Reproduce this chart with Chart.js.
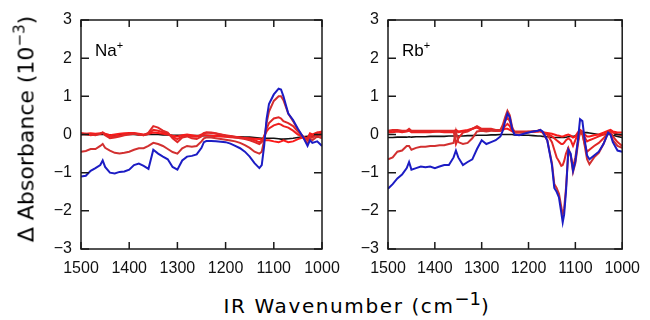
<!DOCTYPE html>
<html>
<head>
<meta charset="utf-8">
<script src="https://cdn.jsdelivr.net/npm/chart.js@4.4.0/dist/chart.umd.min.js"></script>
<style>
  body { margin: 0; background: #fff; }
  #fig { position: relative; width: 650px; height: 320px; overflow: hidden; font-family: "Liberation Sans", Arial, sans-serif; }
  .pane { position: absolute; top: 0; height: 285px; }
  .tag { position: absolute; font-size: 17px; color: #000; line-height: 1; }
  .tag sup { font-size: 11px; vertical-align: 7px; }
  #ytitle { position: absolute; left: 25px; top: 129px; transform: translate(-50%, -50%) rotate(-90deg);
            white-space: nowrap; font-family: "DejaVu Sans", sans-serif; font-size: 22px; line-height: 1; }
  #ytitle sup { font-size: 15px; vertical-align: 9px; }
  #xtitle { position: absolute; left: 357px; top: 303px; transform: translate(-50%, -50%);
            white-space: nowrap; font-family: "DejaVu Sans", sans-serif; font-size: 20px; letter-spacing: 1.6px; line-height: 1; }
  #xtitle sup { font-size: 18px; vertical-align: 8px; letter-spacing: 0; }
</style>
</head>
<body>
<div id="fig">
  <div class="pane" style="left:0;width:350px"><canvas id="na"></canvas></div>
  <div class="pane" style="left:330px;width:320px"><canvas id="rb"></canvas></div>
  <div class="tag" style="left:95px;top:40px">Na<sup>+</sup></div>
  <div class="tag" style="left:402px;top:40px">Rb<sup>+</sup></div>
  <div id="ytitle">Δ Absorbance (10<sup>−3</sup>)</div>
  <div id="xtitle">IR Wavenumber (cm<sup>−1</sup>)</div>
</div>
<script>
// tick values
const xTicks = [1500, 1400, 1300, 1200, 1100, 1000];
const yTicks = [-3, -2, -1, 0, 1, 2, 3];

// Na+ panel
const naWn = [
  1500, 1490, 1480, 1470, 1460, 1455, 1450, 1440, 1430, 1420,
  1410, 1400, 1390, 1380, 1370, 1360, 1350, 1340, 1330, 1320,
  1310, 1300, 1290, 1280, 1270, 1260, 1250, 1245, 1240, 1230,
  1220, 1210, 1200, 1190, 1180, 1170, 1160, 1150, 1140, 1130,
  1125, 1120, 1115, 1110, 1100, 1090, 1085, 1080, 1070, 1060,
  1050, 1040, 1030, 1025, 1020, 1010, 1000];
const naBlue = [
  -1.10, -1.08, -0.95, -0.88, -0.80, -0.68, -0.85, -1.00, -1.02, -0.98,
  -0.97, -0.92, -0.80, -0.76, -0.82, -0.90, -0.40, -0.50, -0.58, -0.65,
  -0.85, -0.92, -0.68, -0.58, -0.56, -0.52, -0.35, -0.20, -0.17, -0.17,
  -0.18, -0.19, -0.20, -0.24, -0.30, -0.36, -0.45, -0.58, -0.75, -0.88,
  -0.80, -0.30, 0.40, 0.80, 1.05, 1.20, 1.18, 1.00, 0.55, 0.38,
  0.15, -0.05, -0.30, -0.15, -0.22, -0.18, -0.30];
const naRed1 = [
  -0.45, -0.43, -0.38, -0.38, -0.30, -0.25, -0.35, -0.42, -0.48, -0.50,
  -0.48, -0.45, -0.40, -0.36, -0.36, -0.30, -0.22, -0.25, -0.30, -0.38,
  -0.46, -0.50, -0.36, -0.30, -0.32, -0.30, -0.18, -0.10, -0.08, -0.08,
  -0.10, -0.12, -0.14, -0.16, -0.18, -0.22, -0.28, -0.35, -0.45, -0.50,
  -0.45, -0.15, 0.30, 0.60, 0.88, 1.00, 1.00, 0.90, 0.55, 0.35,
  0.12, -0.05, -0.25, -0.10, -0.15, -0.05, -0.10];
const naRed2 = [
  0.02, 0.00, 0.00, -0.02, 0.02, 0.05, -0.02, -0.10, -0.08, -0.05,
  -0.02, 0.00, 0.02, 0.00, -0.02, 0.05, 0.22, 0.18, 0.10, 0.05,
  -0.10, -0.20, -0.08, -0.05, -0.10, -0.12, -0.05, 0.02, 0.05, 0.05,
  0.03, 0.00, -0.03, -0.05, -0.08, -0.10, -0.12, -0.15, -0.20, -0.25,
  -0.20, -0.05, 0.15, 0.30, 0.42, 0.45, 0.42, 0.35, 0.30, 0.22,
  0.08, -0.05, -0.15, -0.05, -0.08, 0.00, -0.05];
const naRed3 = [
  0.00, 0.02, -0.02, 0.00, 0.02, 0.04, 0.00, -0.06, -0.05, -0.03,
  0.00, 0.02, 0.03, 0.00, -0.02, 0.02, 0.12, 0.10, 0.06, 0.02,
  -0.06, -0.12, -0.05, -0.02, -0.05, -0.06, 0.00, 0.04, 0.05, 0.04,
  0.02, 0.00, -0.02, -0.04, -0.06, -0.08, -0.10, -0.12, -0.15, -0.20,
  -0.16, -0.05, 0.08, 0.16, 0.24, 0.28, 0.26, 0.22, 0.18, 0.10,
  0.00, -0.05, -0.12, 0.00, -0.02, 0.05, 0.08];
const naRed4 = [
  0.04, 0.02, 0.03, 0.02, 0.03, 0.05, 0.02, -0.02, 0.00, 0.02,
  0.03, 0.04, 0.04, 0.02, 0.00, 0.02, 0.05, 0.04, 0.02, 0.00,
  -0.03, -0.05, -0.02, 0.00, -0.02, -0.04, -0.03, -0.02, -0.02, -0.03,
  -0.04, -0.05, -0.06, -0.07, -0.08, -0.08, -0.09, -0.10, -0.11, -0.12,
  -0.13, -0.15, -0.15, -0.15, -0.18, -0.20, -0.18, -0.15, -0.20, -0.18,
  -0.12, -0.08, -0.10, 0.03, 0.00, 0.05, 0.03];
const naBlack = [
  0.00, 0.00, 0.01, 0.00, 0.00, 0.00, 0.00, -0.01, -0.01, 0.00,
  0.00, 0.00, 0.00, -0.01, -0.01, 0.00, 0.00, 0.00, -0.01, -0.01,
  -0.02, -0.02, -0.02, -0.02, -0.03, -0.03, -0.03, -0.03, -0.03, -0.03,
  -0.04, -0.04, -0.05, -0.05, -0.06, -0.06, -0.07, -0.07, -0.08, -0.09,
  -0.10, -0.10, -0.10, -0.10, -0.10, -0.11, -0.12, -0.12, -0.11, -0.10,
  -0.08, -0.06, -0.05, -0.05, -0.04, -0.02, 0.00];

// Rb+ panel
const rbWn = [
  1500, 1490, 1480, 1470, 1460, 1455, 1450, 1440, 1430, 1420,
  1410, 1400, 1390, 1380, 1370, 1360, 1355, 1350, 1340, 1330,
  1320, 1310, 1300, 1290, 1280, 1270, 1260, 1255, 1250, 1245,
  1240, 1235, 1230, 1220, 1210, 1200, 1190, 1180, 1175, 1170,
  1160, 1150, 1145, 1140, 1135, 1130, 1127, 1124, 1120, 1115,
  1110, 1105, 1100, 1095, 1090, 1085, 1080, 1075, 1070, 1060,
  1050, 1040, 1030, 1025, 1020, 1010, 1000];
const rbBlue = [
  -1.42, -1.30, -1.15, -1.05, -0.88, -0.72, -0.92, -0.88, -0.84, -0.86,
  -0.84, -0.88, -0.84, -0.80, -0.80, -0.60, -0.42, -0.60, -0.80, -0.72,
  -0.65, -0.38, -0.15, -0.25, -0.20, -0.15, -0.05, 0.10, 0.35, 0.55,
  0.45, 0.15, 0.00, -0.02, 0.02, 0.05, 0.08, 0.10, 0.12, 0.08,
  -0.15, -0.80, -1.40, -1.50, -1.65, -2.05, -2.30, -2.10, -1.50, -0.40,
  -0.50, -0.95, -0.70, -0.20, 0.40, 0.35, -0.15, -0.55, -0.65, -0.55,
  -0.45, -0.25, 0.05, 0.00, -0.20, -0.42, -0.45];
const rbRed1 = [
  -0.65, -0.60, -0.45, -0.42, -0.30, -0.30, -0.40, -0.35, -0.32, -0.32,
  -0.30, -0.30, -0.28, -0.28, -0.25, -0.22, 0.08, -0.20, -0.25, -0.22,
  -0.10, 0.08, 0.10, 0.08, 0.10, 0.10, 0.12, 0.25, 0.45, 0.62,
  0.50, 0.20, 0.05, 0.05, 0.05, 0.07, 0.08, 0.10, 0.12, 0.05,
  -0.15, -0.75, -1.30, -1.40, -1.55, -1.90, -2.10, -1.95, -1.40, -0.45,
  -0.55, -0.98, -0.75, -0.30, 0.10, 0.05, -0.30, -0.65, -0.78, -0.60,
  -0.48, -0.25, 0.05, 0.00, -0.15, -0.30, -0.35];
const rbRed2 = [
  0.10, 0.12, 0.12, 0.10, 0.10, 0.15, 0.10, 0.10, 0.10, 0.10,
  0.10, 0.10, 0.10, 0.10, 0.10, 0.10, -0.25, -0.10, 0.05, 0.08,
  0.15, 0.22, 0.15, 0.15, 0.15, 0.12, 0.12, 0.20, 0.35, 0.45,
  0.35, 0.15, 0.08, 0.08, 0.08, 0.08, 0.08, 0.10, 0.10, 0.05,
  0.00, -0.20, -0.40, -0.60, -0.70, -0.82, -0.80, -0.70, -0.50, -0.35,
  -0.55, -0.85, -0.60, -0.20, 0.05, 0.00, -0.25, -0.45, -0.40, -0.30,
  -0.22, -0.10, 0.05, 0.05, -0.05, -0.20, -0.30];
const rbRed3 = [
  0.05, 0.06, 0.08, 0.06, 0.08, 0.10, 0.06, 0.06, 0.06, 0.06,
  0.06, 0.07, 0.07, 0.06, 0.06, 0.06, 0.10, 0.06, 0.08, 0.10,
  0.15, 0.20, 0.12, 0.12, 0.12, 0.10, 0.10, 0.15, 0.22, 0.28,
  0.22, 0.10, 0.06, 0.06, 0.06, 0.06, 0.08, 0.08, 0.10, 0.06,
  0.02, -0.05, -0.10, -0.15, -0.20, -0.25, -0.25, -0.22, -0.15, -0.10,
  -0.15, -0.30, -0.15, 0.00, 0.08, 0.05, -0.08, -0.18, -0.15, -0.10,
  -0.05, 0.00, 0.08, 0.10, 0.05, 0.00, -0.02];
const rbRed4 = [
  0.08, 0.10, 0.10, 0.08, 0.10, 0.12, 0.08, 0.08, 0.09, 0.08,
  0.08, 0.08, 0.09, 0.08, 0.08, 0.08, 0.12, 0.08, 0.10, 0.12,
  0.15, 0.18, 0.12, 0.12, 0.12, 0.10, 0.10, 0.12, 0.15, 0.15,
  0.12, 0.08, 0.06, 0.06, 0.06, 0.06, 0.07, 0.08, 0.08, 0.06,
  0.04, 0.02, 0.00, -0.02, -0.03, -0.05, -0.05, -0.04, -0.02, 0.00,
  -0.03, -0.08, -0.05, 0.05, 0.12, 0.08, 0.00, -0.05, -0.05, -0.02,
  0.00, 0.05, 0.10, 0.12, 0.08, 0.05, 0.05];
const rbBlack = [
  -0.08, -0.08, -0.07, -0.07, -0.07, -0.06, -0.07, -0.06, -0.06, -0.06,
  -0.05, -0.05, -0.05, -0.05, -0.04, -0.04, -0.04, -0.04, -0.04, -0.03,
  -0.03, -0.02, -0.02, -0.02, -0.01, -0.01, 0.00, 0.00, 0.00, 0.00,
  0.00, 0.00, -0.01, -0.02, -0.02, -0.02, -0.03, -0.04, -0.04, -0.05,
  -0.06, -0.08, -0.08, -0.08, -0.08, -0.08, -0.08, -0.08, -0.07, -0.06,
  -0.05, -0.05, -0.03, 0.00, 0.03, 0.05, 0.05, 0.05, 0.04, 0.02,
  0.00, 0.00, 0.00, 0.00, -0.02, -0.05, -0.08];

const lineColors = ['#1c1cc4', '#d23030', '#e02828', '#ee2020', '#fa1a1a', '#111111'];

// frame with inward ticks on all four sides
const frameTicks = {
  id: 'frameTicks',
  afterDraw(chart) {
    const { ctx, chartArea: a, scales: { x, y } } = chart;
    ctx.save();
    ctx.strokeStyle = '#1a1a1a';
    ctx.lineWidth = 1.5;
    ctx.strokeRect(a.left, a.top, a.right - a.left, a.bottom - a.top);
    ctx.beginPath();
    xTicks.forEach(v => {
      const px = x.getPixelForValue(v);
      ctx.moveTo(px, a.bottom); ctx.lineTo(px, a.bottom - 7);
      ctx.moveTo(px, a.top); ctx.lineTo(px, a.top + 7);
    });
    yTicks.forEach(v => {
      const py = y.getPixelForValue(v);
      ctx.moveTo(a.left, py); ctx.lineTo(a.left + 8, py);
      ctx.moveTo(a.right, py); ctx.lineTo(a.right - 8, py);
    });
    ctx.stroke();
    ctx.restore();
  }
};

function makePanel(id, wn, series, axisWidth, padRight) {
  const datasets = series.map((vals, i) => ({
    data: wn.map((w, k) => ({ x: w, y: vals[k] })),
    borderColor: lineColors[i],
    borderWidth: i === 5 ? 1.6 : 2,
    pointRadius: 0,
    tension: 0,
    fill: false
  }));
  return new Chart(document.getElementById(id), {
    type: 'line',
    data: { datasets: datasets },
    options: {
      responsive: true,
      maintainAspectRatio: false,
      animation: false,
      layout: { padding: { top: 20, right: padRight, left: 0, bottom: 0 } },
      plugins: { legend: { display: false }, tooltip: { enabled: false } },
      scales: {
        x: {
          type: 'linear', reverse: true, min: 1000, max: 1500,
          grid: { display: false, drawTicks: false },
          border: { display: false },
          afterFit: s => { s.height = 36; },
          afterBuildTicks: s => { s.ticks = xTicks.map(v => ({ value: v })); },
          ticks: { padding: 10, color: '#111', maxRotation: 0, autoSkip: false,
                   font: { family: 'Liberation Sans', size: 16 },
                   callback: v => String(v) }
        },
        y: {
          min: -3, max: 3,
          grid: { display: false, drawTicks: false },
          border: { display: false },
          afterFit: s => { s.width = axisWidth; },
          afterBuildTicks: s => { s.ticks = yTicks.map(v => ({ value: v })); },
          ticks: { padding: 9, color: '#111',
                   font: { family: 'Liberation Sans', size: 16 },
                   callback: v => v < 0 ? '\u2212' + Math.abs(v) : String(v) }
        }
      }
    },
    plugins: [frameTicks]
  });
}

makePanel('na', naWn, [naBlue, naRed1, naRed2, naRed3, naRed4, naBlack], 81, 28);
makePanel('rb', rbWn, [rbBlue, rbRed1, rbRed2, rbRed3, rbRed4, rbBlack], 58, 19);
</script>
</body>
</html>
